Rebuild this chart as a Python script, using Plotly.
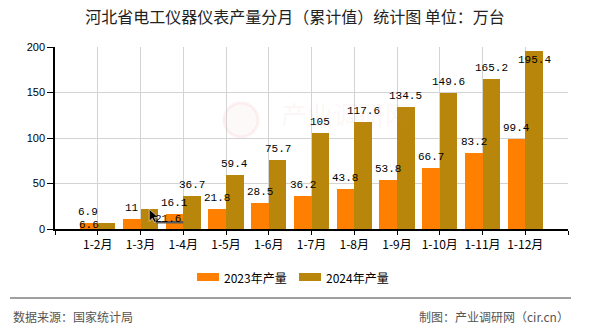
import plotly.graph_objects as go

# Cumulative monthly output of electrical instruments in Hebei (10k units)
categories = ["1-2月", "1-3月", "1-4月", "1-5月", "1-6月", "1-7月",
              "1-8月", "1-9月", "1-10月", "1-11月", "1-12月"]
values_2023 = [6.6, 11, 16.1, 21.8, 28.5, 36.2, 43.8, 53.8, 66.7, 83.2, 99.4]
values_2024 = [6.9, 21.6, 36.7, 59.4, 75.7, 105, 117.6, 134.5, 149.6, 165.2, 195.4]
series_names = ["2023年产量", "2024年产量"]
y_ticks = [0, 50, 100, 150, 200]

COLOR_2023 = "#FF8000"
COLOR_2024 = "#B8860B"
BAR_W = 0.41

W, H = 590, 330
L, R, T, B = 55, 22, 47, 101
PW, PH = W - L - R, H - T - B


def px(x):
    return (x - L) / PW


def py(y):
    return (H - B - y) / PH


x_pos = list(range(1, len(categories) + 1))

fig = go.Figure()
fig.add_trace(go.Bar(x=x_pos, y=values_2023, name=series_names[0],
                     marker=dict(color=COLOR_2023, line=dict(width=0)),
                     width=BAR_W, offset=-BAR_W, showlegend=False))
fig.add_trace(go.Bar(x=x_pos, y=values_2024, name=series_names[1],
                     marker=dict(color=COLOR_2024, line=dict(width=0)),
                     width=BAR_W, offset=0, showlegend=False))

# value labels; a few are nudged (pixels) to avoid overlapping
nudges = {(0, 0): (0, -13), (1, 0): (-19, 0), (1, 1): (19, -21)}
label_font = dict(family="Liberation Mono, monospace", size=11, color="#000")
for s, vals in enumerate([values_2023, values_2024]):
    shift = -BAR_W / 2 if s == 0 else BAR_W / 2
    for i, v in enumerate(vals):
        dx, dy = nudges.get((s, i), (0, 0))
        over_top = v > 190
        fig.add_annotation(
            x=x_pos[i] + shift, y=v, xref="x", yref="y",
            text=f"{v:g}", showarrow=False, font=label_font,
            xanchor="center", yanchor="top" if over_top else "bottom",
            xshift=dx, yshift=(-1 if over_top else 3) + dy,
        )

# leader for the displaced 21.6 label, with a small pointer at the bar top
lead_x = x_pos[1] + BAR_W / 2
lead_y = values_2024[1]
fig.add_shape(type="path", xref="x", yref="y",
              xsizemode="pixel", ysizemode="pixel",
              xanchor=lead_x, yanchor=lead_y,
              path="M 3,-4 L 8,-13 L 34,-13",
              line=dict(color="#5a5a5a", width=2.5), layer="above")
fig.add_shape(type="path", xref="x", yref="y",
              xsizemode="pixel", ysizemode="pixel",
              xanchor=lead_x, yanchor=lead_y,
              path="M 0,0 L 0,-12 L 3,-9 L 5,-13 L 7,-12 L 5,-8 L 9,-8 Z",
              fillcolor="#000", line=dict(color="#fff", width=0.6),
              layer="above")

# faint site watermark
fig.add_shape(type="circle", xref="paper", yref="paper",
              x0=px(224), x1=px(258), y0=py(137), y1=py(103),
              line=dict(color="rgba(240,150,150,0.12)", width=3),
              fillcolor="rgba(240,150,150,0.06)", layer="below")
fig.add_annotation(x=px(346), y=py(113), xref="paper", yref="paper",
                   text="产业调研网", showarrow=False,
                   font=dict(family="Noto Sans CJK SC", size=26,
                             color="rgba(235,120,120,0.07)"))

# legend drawn as swatches + text
legend_items = [(197, COLOR_2023, series_names[0]), (299, COLOR_2024, series_names[1])]
for x0, col, name in legend_items:
    fig.add_shape(type="rect", xref="paper", yref="paper",
                  x0=px(x0), x1=px(x0 + 22), y0=py(281), y1=py(273),
                  fillcolor=col, line=dict(width=0))
    fig.add_annotation(x=px(x0 + 25), y=py(277), xref="paper", yref="paper",
                       text=name, showarrow=False, xanchor="left", yanchor="middle",
                       font=dict(family="Noto Sans CJK SC", size=12, color="#000"))

# footer
fig.add_shape(type="line", xref="paper", yref="paper",
              x0=px(10), x1=px(571), y0=py(298), y1=py(298),
              line=dict(color="#808080", width=1.5))
footer_font = dict(family="Noto Sans CJK SC", size=12, color="#555")
fig.add_annotation(x=px(11), y=py(316), xref="paper", yref="paper",
                   text="数据来源：国家统计局", showarrow=False,
                   xanchor="left", yanchor="middle", font=footer_font)
fig.add_annotation(x=px(571), y=py(316), xref="paper", yref="paper",
                   text="制图：产业调研网（cir.cn）", showarrow=False,
                   xanchor="right", yanchor="middle", font=footer_font)

fig.update_layout(
    width=W, height=H,
    margin=dict(l=L, r=R, t=T, b=B, pad=0),
    paper_bgcolor="#fff", plot_bgcolor="#fff",
    title=dict(text="河北省电工仪器仪表产量分月（累计值）统计图 单位：万台",
               x=0.5, xanchor="center", y=1 - 17 / H, yanchor="middle",
               xref="container", yref="container",
               font=dict(family="Noto Sans CJK SC", size=16, color="#222")),
    bargap=0, barmode="overlay",
    xaxis=dict(range=[0, len(categories) + 1],
               tickvals=[0] + x_pos + [len(categories) + 1],
               ticktext=[""] + categories + [""],
               showgrid=True, gridcolor="#d3d3d3", gridwidth=1,
               showline=True, linecolor="#000", linewidth=1.5,
               ticks="outside", ticklen=4, tickcolor="#000", tickwidth=1,
               tickfont=dict(family="Noto Sans CJK SC", size=12, color="#000"),
               zeroline=False, fixedrange=True),
    yaxis=dict(range=[0, 200], tickvals=y_ticks,
               showgrid=True, gridcolor="#d3d3d3", gridwidth=1,
               showline=True, linecolor="#000", linewidth=1.5,
               ticks="outside", ticklen=6, tickcolor="#000", tickwidth=1,
               tickfont=dict(family="Liberation Sans, Arial", size=11, color="#000"),
               zeroline=False, fixedrange=True),
)

fig.write_html("out.html")
